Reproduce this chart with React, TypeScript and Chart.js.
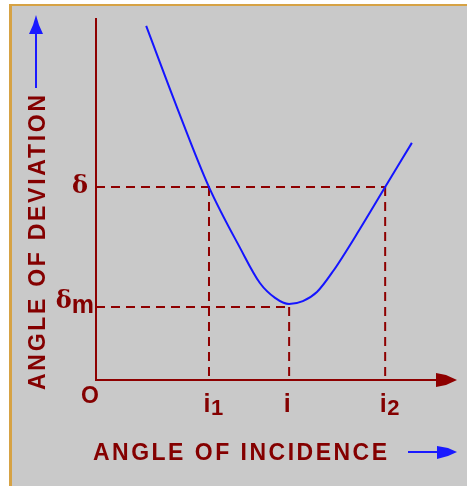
import { useEffect, useRef } from "react";
import { Chart, registerables } from "chart.js";

Chart.register(...registerables);

// Deviation curve of a prism: angle of incidence (x) vs. angle of deviation (y)
const incidence = [13.9, 22.4, 31.3, 39.9, 45.4, 49.6, 53.5, 57.3, 61.2, 65.7, 73.1, 80.1, 87.5];
const deviation = [97.8, 75.4, 53.3, 36.5, 26.8, 22.7, 21.0, 21.8, 24.3, 30.1, 41.7, 53.3, 65.5];

// Marked incidence angles i1, i (minimum deviation), i2
const xTickValues = [31.3, 53.5, 80.1];
const xTickMain = ["i", "i", "i"];
const xTickSub = ["1", "", "2"];

// Marked deviation levels δ and δm
const yTickValues = [53.3, 20.2];
const yTickMain = ["δ", "δ"];
const yTickSub = ["", "m"];

const xTitle = "ANGLE OF INCIDENCE";
const yTitle = "ANGLE OF DEVIATION";
const originLabel = "O";

const X_MAX = 100;
const Y_MAX = 100;

const AXIS = "#8e0000";
const TEXT = "#840000";
const CURVE = "#1414ff";
const ARROW = "#1a1aff";

function spacedText(ctx: CanvasRenderingContext2D, text: string, x: number, y: number, width: number) {
  (ctx as any).letterSpacing = "0px";
  const w = ctx.measureText(text).width;
  const sp = (width - w) / (text.length - 1);
  (ctx as any).letterSpacing = `${sp}px`;
  ctx.fillText(text, x, y);
  (ctx as any).letterSpacing = "0px";
}

const decorations = {
  id: "decorations",
  beforeDatasetsDraw(chart: any) {
    const { ctx, scales } = chart;
    const xs = scales.x;
    const ys = scales.y;
    const ox = xs.getPixelForValue(0);
    const oy = ys.getPixelForValue(0);
    const xEnd = xs.getPixelForValue(X_MAX);
    const yTop = ys.getPixelForValue(Y_MAX);

    ctx.save();
    // axes
    ctx.strokeStyle = AXIS;
    ctx.lineWidth = 2;
    ctx.beginPath();
    ctx.moveTo(ox, yTop);
    ctx.lineTo(ox, oy);
    ctx.lineTo(xEnd - 18, oy);
    ctx.stroke();
    // x-axis arrowhead
    ctx.fillStyle = AXIS;
    ctx.beginPath();
    ctx.moveTo(xEnd - 21, oy - 7);
    ctx.lineTo(xEnd - 11, oy - 5);
    ctx.lineTo(xEnd, oy);
    ctx.lineTo(xEnd - 11, oy + 5);
    ctx.lineTo(xEnd - 21, oy + 7);
    ctx.closePath();
    ctx.fill();
    ctx.restore();
  },
  afterDatasetsDraw(chart: any) {
    const { ctx, scales } = chart;
    const xs = scales.x;
    const ys = scales.y;
    const ox = xs.getPixelForValue(0);
    const oy = ys.getPixelForValue(0);

    ctx.save();
    ctx.fillStyle = TEXT;
    ctx.textBaseline = "alphabetic";

    // origin
    ctx.font = "bold 23px 'Liberation Sans'";
    ctx.textAlign = "center";
    ctx.fillText(originLabel, ox - 6, oy + 23);

    // x tick labels
    xTickValues.forEach((v, k) => {
      const px = xs.getPixelForValue(v);
      ctx.font = "bold 25px 'Liberation Sans'";
      ctx.textAlign = "center";
      ctx.fillText(xTickMain[k], px - 2, oy + 32);
      if (xTickSub[k]) {
        ctx.font = "bold 22px 'Liberation Sans'";
        ctx.textAlign = "left";
        ctx.fillText(xTickSub[k], px + 2, oy + 35);
      }
    });

    // y tick labels
    yTickValues.forEach((v, k) => {
      const py = ys.getPixelForValue(v);
      if (yTickSub[k]) {
        ctx.font = "bold 25px 'Liberation Sans'";
        ctx.textAlign = "right";
        ctx.fillText(yTickSub[k], ox - 2, py + 6);
        const mw = ctx.measureText(yTickSub[k]).width;
        ctx.font = "bold 24px 'DejaVu Serif'";
        ctx.fillText(yTickMain[k], ox - 2 - mw, py + 1);
      } else {
        ctx.font = "bold 24px 'DejaVu Serif'";
        ctx.textAlign = "center";
        ctx.fillText(yTickMain[k], ox - 16, py + 6);
      }
    });

    // axis titles
    ctx.font = "bold 23px 'Liberation Sans'";
    ctx.textAlign = "left";
    spacedText(ctx, xTitle, 93, 460, 294);

    ctx.save();
    ctx.translate(45, 390);
    ctx.rotate(-Math.PI / 2);
    spacedText(ctx, yTitle, 0, 0, 295);
    ctx.restore();

    // blue direction arrows
    ctx.strokeStyle = ARROW;
    ctx.fillStyle = ARROW;
    ctx.lineWidth = 2;
    ctx.beginPath();
    ctx.moveTo(408, 452);
    ctx.lineTo(440, 452);
    ctx.stroke();
    ctx.beginPath();
    ctx.moveTo(437, 446);
    ctx.lineTo(448, 448);
    ctx.lineTo(457, 452);
    ctx.lineTo(448, 456);
    ctx.lineTo(437, 459);
    ctx.closePath();
    ctx.fill();

    ctx.beginPath();
    ctx.moveTo(36, 88);
    ctx.lineTo(36, 32);
    ctx.stroke();
    ctx.beginPath();
    ctx.moveTo(36, 15);
    ctx.lineTo(39, 25);
    ctx.lineTo(43, 34);
    ctx.lineTo(29, 34);
    ctx.lineTo(33, 25);
    ctx.closePath();
    ctx.fill();

    ctx.restore();
  },
};

export default function App() {
  const ref = useRef<HTMLCanvasElement | null>(null);

  useEffect(() => {
    if (!ref.current) return;
    const [i1, iMin, i2] = xTickValues;
    const [delta, deltaMin] = yTickValues;

    const guide = (pts: { x: number; y: number }[]) => ({
      data: pts,
      borderColor: AXIS,
      borderWidth: 2,
      borderDash: [9, 6],
      pointRadius: 0,
      fill: false,
      tension: 0,
      order: 2,
    });

    const chart = new Chart(ref.current, {
      type: "line",
      data: {
        datasets: [
          {
            data: incidence.map((x, k) => ({ x, y: deviation[k] })),
            borderColor: CURVE,
            borderWidth: 2,
            pointRadius: 0,
            fill: false,
            cubicInterpolationMode: "monotone",
            order: 1,
          },
          guide([{ x: 0, y: delta }, { x: i2, y: delta }]),
          guide([{ x: i1, y: delta }, { x: i1, y: 0 }]),
          guide([{ x: i2, y: delta }, { x: i2, y: 0 }]),
          guide([{ x: 0, y: deltaMin }, { x: iMin, y: deltaMin }]),
          guide([{ x: iMin, y: deltaMin }, { x: iMin, y: 0 }]),
        ] as any,
      },
      options: {
        animation: false,
        responsive: false,
        events: [],
        layout: { padding: { left: 96, right: 10, top: 18, bottom: 106 } },
        plugins: { legend: { display: false }, tooltip: { enabled: false } },
        scales: {
          x: { type: "linear", min: 0, max: X_MAX, display: false },
          y: { type: "linear", min: 0, max: Y_MAX, display: false },
        },
      },
      plugins: [decorations],
    });
    return () => chart.destroy();
  }, []);

  return (
    <div style={{ position: "fixed", left: 0, top: 0, width: 467, height: 486, background: "#ffffff" }}>
      <div
        style={{
          position: "absolute",
          left: 9,
          top: 4,
          right: 0,
          bottom: 0,
          background: "#c9c9c9",
          borderTop: "2px solid #d6a244",
          borderLeft: "3px solid #d6a244",
        }}
      />
      <canvas ref={ref} width={467} height={486} style={{ position: "absolute", left: 0, top: 0 }} />
    </div>
  );
}
